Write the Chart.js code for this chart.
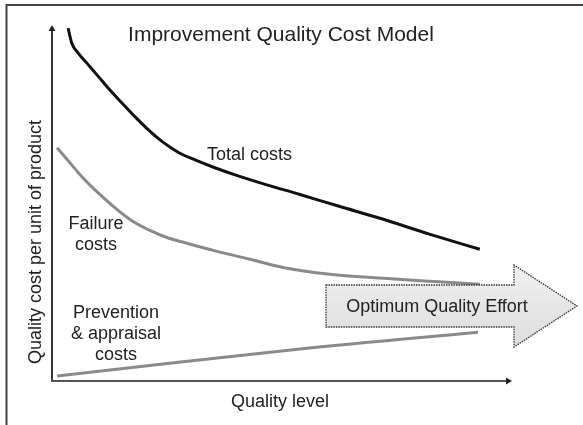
<!DOCTYPE html>
<html>
<head>
<meta charset="utf-8">
<script src="https://cdn.jsdelivr.net/npm/chart.js@4/dist/chart.umd.min.js"></script>
<style>
  html, body { margin: 0; padding: 0; background: #ffffff; }
  #wrap { width: 583px; height: 425px; position: relative; }
</style>
</head>
<body>
<div id="wrap"><canvas id="c" width="583" height="425"></canvas></div>
<script>
// Quality level (0-100) and cost per unit (0-100)
const totalQuality = [3.5, 4.3, 5.7, 7.9, 10.1, 12.2, 15.2, 18.0, 20.9, 23.9, 27.5, 31.1, 35.4, 39.8, 46.7, 53.9, 62.6, 71.3, 82.2, 93.0];
const totalCosts   = [99.1, 94.9, 92.1, 88.8, 85.5, 82.3, 78.1, 74.3, 70.6, 67.3, 64.2, 62.1, 59.9, 57.9, 55.1, 52.4, 49.0, 45.7, 41.2, 37.0];

const failureQuality = [1.1, 3.9, 6.7, 10.4, 14.1, 17.6, 21.3, 25.0, 29.3, 35.9, 43.0, 50.2, 60.4, 71.3, 82.2, 93.0];
const failureCosts   = [65.5, 61.3, 57.1, 52.4, 48.2, 44.8, 42.3, 40.3, 38.7, 36.4, 34.2, 31.9, 30.0, 28.9, 28.0, 27.2];

const preventionQuality = [1.1, 53.9, 92.6];
const preventionCosts   = [1.4, 9.0, 13.7];

const chartTitle = "Improvement Quality Cost Model";
const xTitle = "Quality level";
const yTitle = "Quality cost per unit of product";
const seriesNames = ["Total costs", "Failure costs", "Prevention & appraisal costs"];
const effortLabel = "Optimum Quality Effort";

const toPts = (xs, ys) => xs.map((x, i) => ({ x: x, y: ys[i] }));

const FONT = "'Liberation Sans', Arial, Helvetica, sans-serif";
const TXT = "#222222";

const decor = {
  id: 'decor',
  beforeDatasetsDraw(chart) {
    const ctx = chart.ctx;
    const a = chart.chartArea;
    ctx.save();
    // outer frame (top and left only)
    ctx.strokeStyle = "#444444";
    ctx.lineWidth = 2;
    ctx.beginPath();
    ctx.moveTo(6.5, 425);
    ctx.lineTo(6.5, 5);
    ctx.lineTo(583, 5);
    ctx.stroke();

    // axes
    ctx.strokeStyle = "#333333";
    ctx.fillStyle = "#222222";
    ctx.lineWidth = 2;
    ctx.beginPath();
    ctx.moveTo(a.left, a.bottom);
    ctx.lineTo(a.left, a.top + 3);
    ctx.stroke();
    ctx.beginPath();
    ctx.moveTo(a.left - 3.5, a.top + 6);
    ctx.lineTo(a.left, a.top);
    ctx.lineTo(a.left + 3.5, a.top + 6);
    ctx.closePath();
    ctx.fill();

    ctx.strokeStyle = "#555555";
    ctx.beginPath();
    ctx.moveTo(a.left - 1, a.bottom);
    ctx.lineTo(a.right - 3, a.bottom);
    ctx.stroke();
    ctx.beginPath();
    ctx.moveTo(a.right - 6, a.bottom - 3.5);
    ctx.lineTo(a.right, a.bottom);
    ctx.lineTo(a.right - 6, a.bottom + 3.5);
    ctx.closePath();
    ctx.fill();

    // texts
    ctx.fillStyle = TXT;
    ctx.textAlign = "center";
    ctx.textBaseline = "alphabetic";
    ctx.font = "21px " + FONT;
    ctx.fillText(chartTitle, 281, 41);

    ctx.font = "18px " + FONT;
    ctx.fillText(xTitle, 280, 407);

    ctx.save();
    ctx.translate(41, 242);
    ctx.rotate(-Math.PI / 2);
    ctx.fillText(yTitle, 0, 0);
    ctx.restore();

    ctx.textAlign = "left";
    ctx.fillText(seriesNames[0], 207, 160);
    ctx.textAlign = "center";
    ctx.fillText("Failure", 96, 229);
    ctx.fillText("costs", 96, 250);
    ctx.fillText("Prevention", 116, 318);
    ctx.fillText("& appraisal", 116, 339);
    ctx.fillText("costs", 116, 360);
    ctx.restore();
  },
  afterDatasetsDraw(chart) {
    const ctx = chart.ctx;
    ctx.save();
    // block arrow
    const L = 326, R = 514, T = 285, B = 327, HT = 265, HB = 347, TIP = 577, MID = 306;
    ctx.beginPath();
    ctx.moveTo(L, T);
    ctx.lineTo(R, T);
    ctx.lineTo(R, HT);
    ctx.lineTo(TIP, MID);
    ctx.lineTo(R, HB);
    ctx.lineTo(R, B);
    ctx.lineTo(L, B);
    ctx.closePath();
    const g = ctx.createLinearGradient(0, HT, 0, HB);
    g.addColorStop(0, "#f2f2f2");
    g.addColorStop(0.5, "#e6e6e6");
    g.addColorStop(1, "#dedede");
    ctx.fillStyle = g;
    ctx.fill();
    ctx.setLineDash([1.5, 1]);
    ctx.strokeStyle = "#333333";
    ctx.lineWidth = 1.3;
    ctx.stroke();
    ctx.setLineDash([]);
    ctx.fillStyle = TXT;
    ctx.font = "18px " + FONT;
    ctx.textAlign = "center";
    ctx.textBaseline = "middle";
    ctx.fillText(effortLabel, 437, 307);
    ctx.restore();
  }
};

new Chart(document.getElementById('c'), {
  type: 'line',
  data: {
    datasets: [
      { label: seriesNames[0], data: toPts(totalQuality, totalCosts), borderColor: "#111111", borderWidth: 3, pointRadius: 0, cubicInterpolationMode: 'monotone' },
      { label: seriesNames[1], data: toPts(failureQuality, failureCosts), borderColor: "#8a8a8a", borderWidth: 3, pointRadius: 0, cubicInterpolationMode: 'monotone' },
      { label: seriesNames[2], data: toPts(preventionQuality, preventionCosts), borderColor: "#8a8a8a", borderWidth: 3, pointRadius: 0, tension: 0.4 }
    ]
  },
  options: {
    responsive: false,
    animation: false,
    devicePixelRatio: 1,
    layout: { padding: { left: 52, right: 71, top: 25, bottom: 44 } },
    scales: {
      x: { type: 'linear', min: 0, max: 100, display: false },
      y: { type: 'linear', min: 0, max: 100, display: false }
    },
    plugins: { legend: { display: false }, tooltip: { enabled: false }, title: { display: false } }
  },
  plugins: [decor]
});
</script>
</body>
</html>
